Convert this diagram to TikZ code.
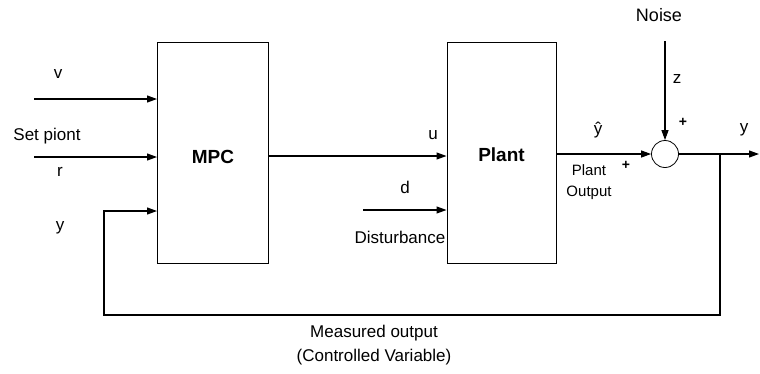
\documentclass[tikz,border=0pt]{standalone}
\usepackage{fontspec}
\setmainfont{Liberation Sans}
\usetikzlibrary{arrows.meta}
\begin{document}
\begin{tikzpicture}[x=1pt,y=-1pt, line width=1.1pt,
  >={Triangle[length=10pt,width=7pt]},
  lbl/.style={font=\fontsize{17}{19}\selectfont, inner sep=0pt},
  small/.style={font=\fontsize{15}{21}\selectfont, inner sep=0pt, align=center},
  blk/.style={draw, line width=1pt, minimum width=#1, inner sep=0pt},
  blbl/.style={font=\bfseries\fontsize{19}{21}\selectfont, inner sep=0pt}]
\useasboundingbox (0,0) rectangle (760,373);
% blocks
\node[blk=111pt, minimum height=221pt] (mpc) at (213,152.5) {};
\node[blbl] (mpct) at (213,157) {MPC};
\node[blk=109pt, minimum height=221pt] (plant) at (501.5,152.5) {};
\node[blbl] (plantt) at (501.5,155) {Plant};
\node[draw, circle, line width=0.8pt, minimum size=27pt, inner sep=0pt] (sum) at (665,154) {};
% coordinates
\coordinate (vin) at (34,99);
\coordinate (rin) at (34,157);
\coordinate (din) at (363,210);
\coordinate (nz) at (665,41);
\coordinate (yout) at (759,154);
\coordinate (br) at (720,154);
\coordinate (fb1) at (720,315);
\coordinate (fb2) at (104,315);
\coordinate (fb3) at (104,211);
% connectors
\draw[->] (vin) -- (vin -| mpc.west);
\draw[->] (rin) -- (rin -| mpc.west);
\draw[->] (mpc.east |- 0,156) -- (plant.west |- 0,156);
\draw[->] (din) -- (din -| plant.west);
\draw[->] (plant.east |- sum.west) -- (sum.west);
\draw[->] (nz) -- (sum.north);
\draw[->] (sum.east) -- (yout);
\draw[->] (br) -- (fb1) -- (fb2) -- (fb3) -- (fb3 -| mpc.west);
% labels
\node[lbl] (lv) at (58,74) {v};
\node[lbl] (lsp) at (47,136) {Set piont};
\node[lbl] (lr) at (60,172) {r};
\node[lbl] (ly) at (60,228) {y};
\node[lbl] (lu) at (433,135) {u};
\node[lbl] (ld) at (405,187) {d};
\node[lbl] (ldist) at (400,237) {Disturbance};
\node[lbl] (lyh) at (598,130) {ŷ};
\node[small] (lpo) at (589,182) {Plant\\Output};
\node[lbl, font=\bfseries\fontsize{14}{16}\selectfont] (lp1) at (626,165) {+};
\node[lbl, font=\fontsize{18}{20}\selectfont] (lnoise) at (659,15) {Noise};
\node[lbl] (lz) at (677,79) {z};
\node[lbl, font=\bfseries\fontsize{14}{16}\selectfont] (lp2) at (683,122) {+};
\node[lbl] (lyo) at (744,130) {y};
\node[lbl] (lmo) at (374,333) {Measured output};
\node[lbl] (lcv) at (374,357) {(Controlled Variable)};
\end{tikzpicture}
\end{document}
